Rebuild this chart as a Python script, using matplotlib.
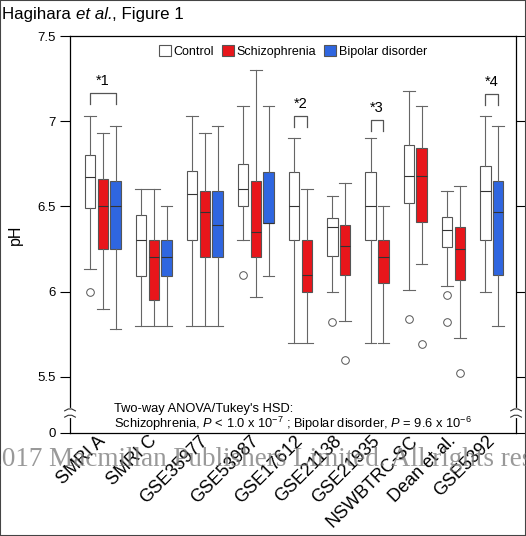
import matplotlib.pyplot as plt
from matplotlib.patches import Patch, Rectangle
from matplotlib.transforms import ScaledTranslation

plt.rcParams['font.family'] = ['Liberation Sans', 'DejaVu Sans']
plt.rcParams['mathtext.fontset'] = 'custom'
plt.rcParams['mathtext.rm'] = 'Liberation Sans'
plt.rcParams['mathtext.it'] = 'Liberation Sans:italic'

# datasets and box stats: [whisker low, q1, median, q3, whisker high]
datasets = ['SMRI A', 'SMRI C', 'GSE35977', 'GSE53987', 'GSE17612',
            'GSE21138', 'GSE21935', 'NSWBTRC-SC', 'Dean et al.', 'GSE5392']
ctrl = [[6.13, 6.49, 6.67, 6.80, 7.03],
        [5.80, 6.09, 6.30, 6.45, 6.60],
        [5.80, 6.30, 6.57, 6.71, 7.03],
        [6.30, 6.50, 6.60, 6.75, 7.09],
        [5.70, 6.30, 6.50, 6.70, 6.90],
        [6.00, 6.21, 6.38, 6.43, 6.56],
        [5.70, 6.30, 6.50, 6.70, 6.90],
        [6.01, 6.52, 6.68, 6.86, 7.18],
        [6.03, 6.26, 6.36, 6.44, 6.59],
        [6.00, 6.30, 6.59, 6.74, 7.03]]
scz = [[5.90, 6.25, 6.50, 6.66, 6.93],
       [5.80, 5.95, 6.20, 6.30, 6.60],
       [5.80, 6.20, 6.47, 6.59, 6.93],
       [5.97, 6.20, 6.35, 6.65, 7.30],
       [5.70, 6.00, 6.10, 6.30, 6.60],
       [5.83, 6.10, 6.27, 6.39, 6.64],
       [5.70, 6.05, 6.20, 6.30, 6.50],
       [6.16, 6.41, 6.68, 6.84, 7.09],
       [5.73, 6.07, 6.25, 6.38, 6.62],
       None]
bpd = [[5.78, 6.25, 6.50, 6.65, 6.97],
       [5.80, 6.09, 6.20, 6.30, 6.50],
       [5.80, 6.20, 6.39, 6.59, 6.97],
       [6.09, 6.40, 6.40, 6.70, 7.09],
       None, None, None, None, None,
       [5.80, 6.10, 6.47, 6.65, 6.97]]
ctrl_out = [[6.00], [], [], [6.10], [], [5.82], [], [5.84], [5.98, 5.82], []]
scz_out = [[], [], [], [], [], [5.60], [], [5.69], [5.52], []]
bpd_out = [[] for _ in datasets]

sig_labels = ['*1', '*2', '*3', '*4']
sig_groups = [0, 4, 6, 9]
sig_heights = [7.165, 7.03, 7.005, 7.16]

colors = {'Control': 'white', 'Schizophrenia': '#E8161B', 'Bipolar disorder': '#2F66E0'}

fig = plt.figure(figsize=(5.26, 5.36), dpi=100)
ax = fig.add_axes([0.1331, 0.1922, 0.848, 0.7406])

# slot positions: boxes side by side, one empty slot between datasets
stats, pos, fills, group_pos = [], [], [], []
slot = 0
for i, name in enumerate(datasets):
    first = slot
    for series, outs, c in [(ctrl, ctrl_out, 'Control'),
                            (scz, scz_out, 'Schizophrenia'),
                            (bpd, bpd_out, 'Bipolar disorder')]:
        s = series[i]
        if s is None:
            continue
        stats.append(dict(whislo=s[0], q1=s[1], med=s[2], q3=s[3], whishi=s[4],
                          fliers=outs[i]))
        pos.append(slot)
        fills.append(colors[c])
        slot += 1
    group_pos.append((first + slot - 1) / 2)
    slot += 1

bp = ax.bxp(stats, positions=pos, widths=0.82, patch_artist=True,
            boxprops=dict(edgecolor='#555555', linewidth=0.8),
            medianprops=dict(color='#333333', linewidth=0.8),
            whiskerprops=dict(color='#666666', linewidth=0.8),
            capprops=dict(color='#666666', linewidth=0.8),
            flierprops=dict(marker='o', markerfacecolor='none',
                            markeredgecolor='#555555', markersize=5.5,
                            markeredgewidth=0.7),
            capwidths=0.9)
for b, f in zip(bp['boxes'], fills):
    b.set_facecolor(f)

# significance brackets
for lab, g, h in zip(sig_labels, sig_groups, sig_heights):
    idx = [k for k, p in enumerate(pos) if abs(p - group_pos[g]) <= 1]
    x0, x1 = pos[idx[0]], pos[idx[-1]]
    ax.plot([x0, x0, x1, x1], [h - 0.065, h, h, h - 0.065], color='#555555', lw=0.9)
    ax.text((x0 + x1) / 2, h + 0.03, lab, ha='center', va='bottom', fontsize=10.5)

ax.set_xlim(-1.57, 33.4)
ax.set_ylim(5.17, 7.5)
ax.set_yticks([5.17, 5.5, 6, 6.5, 7, 7.5])
ax.set_yticklabels(['0', '5.5', '6', '6.5', '7', '7.5'], fontsize=9.5)
ax.set_xticks(group_pos)
ax.set_xticklabels(datasets, rotation=45, ha='right', va='center',
                   rotation_mode='anchor', fontsize=13)
shift = ScaledTranslation(8 / 100, 0, fig.dpi_scale_trans)
for t in ax.get_xticklabels():
    t.set_transform(t.get_transform() + shift)
ax.tick_params(axis='x', length=0, pad=4)
ax.tick_params(axis='y', direction='out', length=7, width=0.8, right=True)
ax.set_ylabel('pH', fontsize=11.5, labelpad=10)
for sp in ax.spines.values():
    sp.set_linewidth(0.9)

# axis break marks
for xa in [0, 1]:
    ax.plot([xa, xa], [5.27, 5.305], color='white', lw=3, transform=ax.get_yaxis_transform(),
            clip_on=False, zorder=5)
    for yb in [5.268, 5.305]:
        xs = [xa - 0.012, xa - 0.004, xa + 0.004, xa + 0.012]
        ys = [yb - 0.005, yb + 0.006, yb + 0.006, yb - 0.005]
        ax.plot(xs, ys, color='#333333', lw=0.8, transform=ax.get_yaxis_transform(),
                clip_on=False, zorder=6)

ax.text(0.099, 0.052, "Two-way ANOVA/Tukey's HSD:", transform=ax.transAxes, fontsize=9.3)
ax.text(0.099, 0.012, "Schizophrenia, $P$ < 1.0 x 10$^{-7}$ ; Bipolar disorder, $P$ = 9.6 x 10$^{-6}$",
        transform=ax.transAxes, fontsize=9.3)

handles = [Patch(facecolor=colors[k], edgecolor='#555555', linewidth=0.8) for k in colors]
ax.legend(handles, list(colors), loc='upper center', bbox_to_anchor=(0.5, 1.0), ncol=3,
          frameon=False, fontsize=9, handlelength=1.0, handleheight=1.0,
          handletextpad=0.2, columnspacing=0.6, borderaxespad=0.3)

# title in three pieces so "et al." can be italic
t1 = fig.text(0.004, 0.965, 'Hagihara ', fontsize=12.2, va='baseline', ha='left')
t2 = fig.text(0, 0, 'et al.', fontsize=12.2, style='italic', va='baseline', ha='left')
t3 = fig.text(0, 0, ', Figure 1', fontsize=12.2, va='baseline', ha='left')
fig.canvas.draw()
r = fig.canvas.get_renderer()
inv = fig.transFigure.inverted()
x1 = inv.transform(t1.get_window_extent(r))[1, 0]
t2.set_position((x1, 0.965))
x2 = inv.transform(t2.get_window_extent(r))[1, 0]
t3.set_position((x2, 0.965))

fig.text(-0.074, 0.142, '\u00a9 2017 Macmillan Publishers Limited. All rights reserved.',
         family='Liberation Serif', fontsize=19.5, color='#777777', alpha=0.75,
         va='center', ha='left', zorder=20)
fig.patches.append(Rectangle((0, 0), 1, 1, transform=fig.transFigure, fill=False,
                             edgecolor='#444444', lw=1.5))

fig.savefig('out.png', dpi=100)
